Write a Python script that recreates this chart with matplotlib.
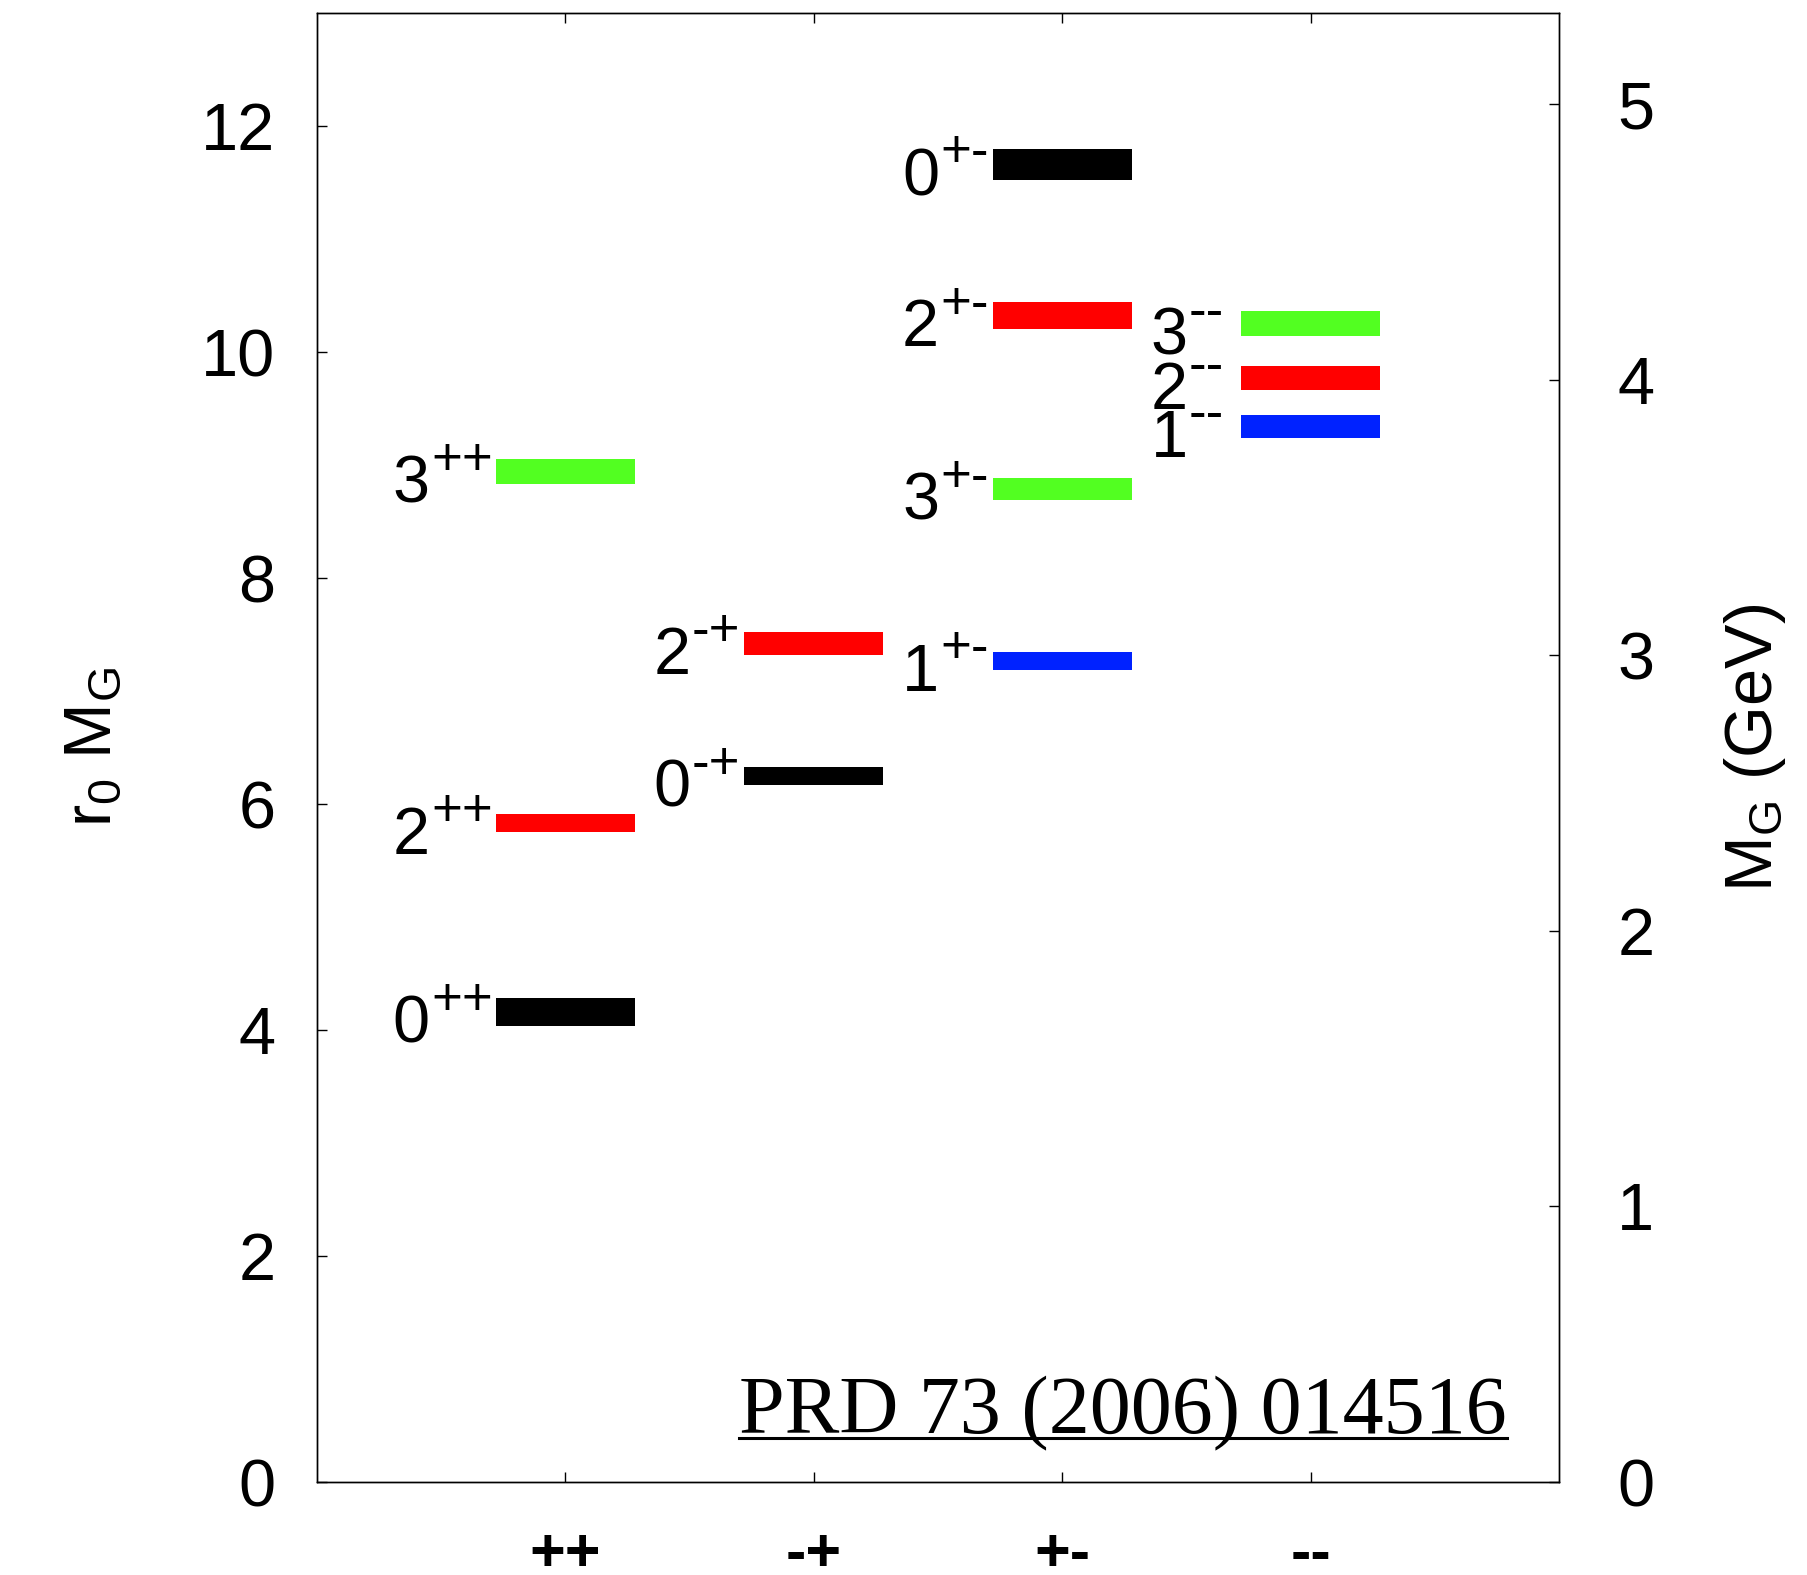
import matplotlib
matplotlib.use('Agg')
from matplotlib import pyplot as plt

plt.rcParams['font.family'] = ['Liberation Sans', 'DejaVu Sans']
plt.rcParams['mathtext.fontset'] = 'custom'
plt.rcParams['mathtext.rm'] = 'Liberation Sans'
plt.rcParams['mathtext.it'] = 'Liberation Sans'

# PC channels on the x axis
channels = ['++', '-+', '+-', '--']

# glueball states: spin J, channel index, r0*M_G and its error band
spins = ['0', '2', '3', '0', '2', '1', '3', '2', '0', '1', '2', '3']
state_channel = [0, 0, 0, 1, 1, 2, 2, 2, 2, 3, 3, 3]
r0_mass = [4.16, 5.83, 8.94, 6.25, 7.42, 7.27, 8.79, 10.32, 11.66, 9.34, 9.77, 10.25]
r0_err = [0.12, 0.08, 0.11, 0.08, 0.10, 0.08, 0.10, 0.12, 0.14, 0.10, 0.11, 0.11]

r0_inv_gev = 0.410   # 1/r0 in GeV
r0_ticks = [0, 2, 4, 6, 8, 10, 12]
gev_ticks = [0, 1, 2, 3, 4, 5]

spin_colors = {'0': '#000000', '1': '#0022ff', '2': '#ff0000', '3': '#52ff21'}
half_width = 0.28
label_shift = [0.415, 0.365, 0.365, 0.365]

fig = plt.figure(figsize=(18.08, 15.75), dpi=100)
ax = fig.add_axes([0.1753, 0.0590, 0.6870, 0.9327])
ax2 = ax.twinx()

xs = [c + 1 for c in state_channel]
bottoms = [m - e for m, e in zip(r0_mass, r0_err)]
heights = [2 * e for e in r0_err]
colors = [spin_colors[j] for j in spins]
ax.bar(xs, heights, bottom=bottoms, width=2 * half_width, color=colors,
       linewidth=0, zorder=3)

for x, j, c, m in zip(xs, spins, state_channel, r0_mass):
    xl = x - half_width - label_shift[c]
    yl = m - 0.27
    ax.text(xl, yl, j, fontsize=48, ha='left', va='baseline')
    ax.annotate(channels[c], xy=(xl, yl), xytext=(27.5, 20),
                textcoords='offset points', fontsize=38,
                ha='left', va='baseline')

ax.set_xlim(0, 5)
ax.set_ylim(0, 13)
ax2.set_ylim(0, 13 * r0_inv_gev)

ax.set_xticks([1, 2, 3, 4])
ax.set_xticklabels(channels, fontsize=44, fontweight='bold')
ax.set_yticks(r0_ticks)
ax.set_yticklabels([str(t) for t in r0_ticks], fontsize=48)
ax2.set_yticks(gev_ticks)
ax2.set_yticklabels([str(t) for t in gev_ticks], fontsize=48)

ax.tick_params(axis='x', direction='in', length=7.5, width=1, top=True,
               bottom=True, pad=32)
ax.tick_params(axis='y', direction='in', length=7.5, width=1, left=True,
               right=False, pad=30)
ax2.tick_params(axis='y', direction='in', length=7.5, width=1, pad=42)
for a in (ax, ax2):
    for s in a.spines.values():
        s.set_linewidth(1.0)

ax.set_ylabel(r'$\mathregular{r_0\ M_G}$', fontsize=48)
ax.yaxis.set_label_coords(-0.155, 0.5)
ax2.set_ylabel(r'$\mathregular{M_G}$ (GeV)', fontsize=48)
ax2.yaxis.set_label_coords(1.131, 0.5)

ref = ax.text(4.79, 0.43, 'PRD 73 (2006) 014516', fontsize=59,
              family='Liberation Serif', ha='right', va='baseline')
fig.canvas.draw()
bb = ref.get_window_extent().transformed(ax.transData.inverted())
ax.plot([bb.x0, bb.x1], [0.39, 0.39], color='black', linewidth=2.2)

fig.savefig('out.png', dpi=100)
